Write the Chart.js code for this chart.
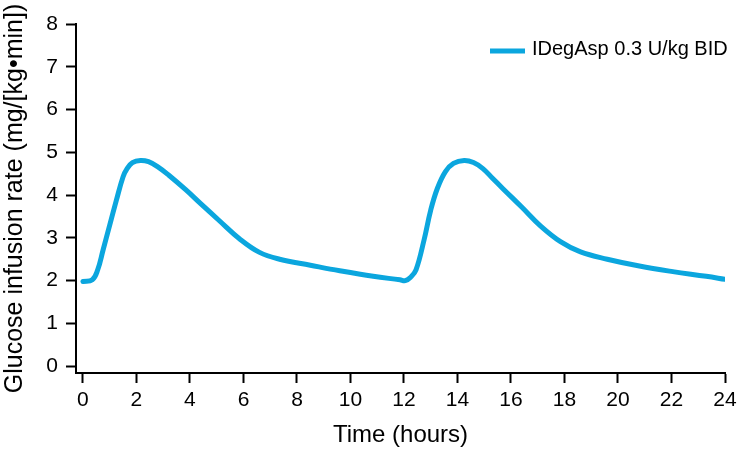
<!DOCTYPE html>
<html>
  <head>
    <title>Glucose infusion rate - IDegAsp</title>
    <script src="https://cdn.jsdelivr.net/npm/chart.js@4/dist/chart.umd.min.js"></script>
    <style>
      html, body { margin: 0; padding: 0; background: #fff; }
      .wrapper { width: 737px; height: 450px; }
      canvas { display: block; }
    </style>
  </head>
  <body>
    <div class="wrapper">
      <canvas id="myChart" width="737" height="450"></canvas>
    </div>

    <script>
// time points (hours) and glucose infusion rate
var hours = [0, 0.35, 0.55, 0.75, 1.0, 1.25, 1.5, 1.65, 1.85, 2.15, 2.45, 2.8, 3.2, 3.85, 4.4, 5.1, 5.85, 6.6, 7.35, 8.5, 9.6, 10.85,
             11.85, 12.05, 12.25, 12.45, 12.75, 13.0, 13.25, 13.55, 13.85, 14.25, 14.6, 14.95, 15.3, 15.7, 16.4, 17.1, 17.85, 18.6, 19.6, 20.8, 22.05, 23.3, 24];
var gir = [1.98, 2.02, 2.25, 2.71, 3.30, 3.88, 4.43, 4.62, 4.76, 4.81, 4.78, 4.66, 4.47, 4.12, 3.80, 3.40, 2.98, 2.66, 2.50, 2.36, 2.23, 2.10,
           2.02, 2.00, 2.08, 2.25, 2.95, 3.65, 4.16, 4.55, 4.74, 4.81, 4.76, 4.62, 4.40, 4.15, 3.72, 3.28, 2.91, 2.67, 2.50, 2.34, 2.21, 2.10, 2.03];

var xTicks = [0, 2, 4, 6, 8, 10, 12, 14, 16, 18, 20, 22, 24];
var yTicks = [0, 1, 2, 3, 4, 5, 6, 7, 8];

var seriesLabel = "IDegAsp 0.3 U/kg BID";
var lineColor = "#0ba6de";
var fontFamily = "'Liberation Sans', Arial, Helvetica, sans-serif";

var points = hours.map(function(h, i) { return {x: h, y: gir[i]}; });

// simple legend in the top right corner: a thick line and the label
var lineLegend = {
  id: 'lineLegend',
  afterDraw: function(chart) {
    var ctx = chart.ctx;
    var ds = chart.data.datasets[0];
    ctx.save();
    ctx.strokeStyle = ds.borderColor;
    ctx.lineWidth = 5;
    ctx.beginPath();
    ctx.moveTo(490, 51);
    ctx.lineTo(525, 51);
    ctx.stroke();
    ctx.fillStyle = '#000';
    ctx.font = '20px ' + fontFamily;
    ctx.textBaseline = 'middle';
    ctx.textAlign = 'left';
    ctx.fillText(ds.label, 532, 49);
    ctx.restore();
  }
};

var axisGrid = {
  drawOnChartArea: false,
  drawTicks: true,
  tickLength: 10,
  tickWidth: 2,
  tickColor: '#000'
};

var ctx = document.getElementById("myChart").getContext('2d');
var myChart = new Chart(ctx, {
  type: 'line',
  data: {
    datasets: [{
      label: seriesLabel,
      data: points,
      borderColor: lineColor,
      backgroundColor: lineColor,
      borderWidth: 5,
      pointRadius: 0,
      fill: false,
      tension: 0.4,
      borderCapStyle: 'round',
      borderJoinStyle: 'round'
    }]
  },
  options: {
    responsive: false,
    animation: false,
    layout: { autoPadding: false, padding: { top: 24, right: 12, left: 0, bottom: 0 } },
    plugins: {
      legend: { display: false },
      tooltip: { enabled: false }
    },
    scales: {
      x: {
        type: 'linear',
        min: -0.26,
        max: 24,
        afterBuildTicks: function(scale) {
          scale.ticks = xTicks.map(function(v) { return {value: v}; });
        },
        afterFit: function(scale) {
          scale.height = 77;
          scale.paddingLeft = 0;
          scale.paddingRight = 0;
        },
        ticks: { color: '#000', padding: 5, font: { size: 21, family: fontFamily } },
        grid: axisGrid,
        border: { color: '#000', width: 2 },
        title: {
          display: true,
          text: 'Time (hours)',
          color: '#000',
          padding: 0,
          font: { size: 24, family: fontFamily }
        }
      },
      y: {
        min: -0.16,
        max: 8,
        afterBuildTicks: function(scale) {
          scale.ticks = yTicks.map(function(v) { return {value: v}; });
        },
        afterFit: function(scale) {
          scale.width = 76;
          scale.paddingTop = 0;
          scale.paddingBottom = 0;
        },
        ticks: { color: '#000', padding: 8, font: { size: 21, family: fontFamily } },
        grid: axisGrid,
        border: { color: '#000', width: 2 },
        title: {
          display: true,
          text: 'Glucose infusion rate (mg/[kg\u2022min])',
          color: '#000',
          padding: 0,
          font: { size: 25, family: fontFamily }
        }
      }
    }
  },
  plugins: [lineLegend]
});
    </script>
  </body>
</html>
